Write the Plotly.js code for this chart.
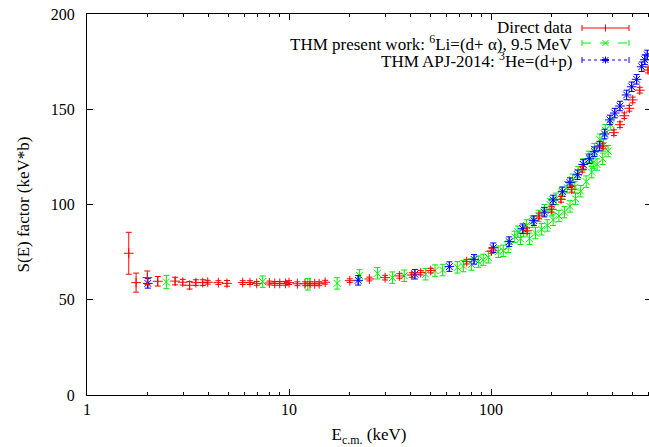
<!DOCTYPE html>
<html><head><meta charset="utf-8">
<script src="https://cdn.plot.ly/plotly-3.0.1.min.js"></script>
<style>html,body{margin:0;padding:0;overflow:hidden;background:#fff}</style>
</head><body><div id="chart"></div>
<script>
// Direct data
const redE = [1.61,1.75,1.99,2.24,2.73,2.98,3.22,3.46,3.74,3.96,4.47,4.93,5.9,6.41,6.92,8.0,8.5,9.0,9.6,10,11,12.0,12.7,13.4,14.1,15.1,20,25,29.9,35.2,40.5,44.9,50.3,75.8,100.6,151,173,199.6,222,251,283,358,406,435,457,484,503,545,599];
const redS = [74.4,59,61.6,59.7,59.8,59.2,57.6,59,59,59.2,59,58.6,59,59,58.6,58.8,58.6,58.6,58.6,59,58.4,58.4,58.4,58.4,58.4,59.2,60,60.9,61.6,62.5,63,64.2,65.3,70,75.6,86.2,94,97.5,102.7,108,118.5,130.7,137.7,141.9,146.6,150.5,154.9,160,170.6];
const redErr = [11,5,3.5,2.5,2,1.5,2,1.5,1.5,1,1,1.5,1,1,1,1,1,1,1,1,1,1,1,1,1,1,1,1,1.2,1.2,1.2,1.2,1.2,1.2,1.2,1.5,1.5,1.5,1.5,1.5,1.5,1.5,1.5,1.5,1.5,1.5,1.5,1.5,1.5];
// THM present work
const greenE = [2.47,7.41,12.4,17.3,22.3,27.4,32.5,37.2,47.5,52.8,57.6,68.1,73,80,86.6,91.5,97,108.6,115,121.7,131,136,140,145,150,155,160,166,172,178,184,190,196,200,203,210,217,224,231,238,246,254,260,262,270,278,287,296,305,315,320,325,335,346,357,360,368,380,392];
const greenS = [59.3,59.5,58.1,58.6,62.8,63.9,61.6,62.6,63.4,65.3,65.6,67,67.7,68.5,70,70.9,72.3,75.2,75.7,77.8,83,85.7,82,86,89,82,91,85,94,87,97,89,100,97,92,103,94,106,96,109,99,113,109,103,117,107,121,112,125,117,122,129,121,134,124,131,139,128,142];
const greenErr = [3.5,3,3,3,3,3,3,3,3,3,3,3,3,3,3,3,3,3,3,3,3,3,3,3,3,3,3,3,3,3,3,3,3,3,3,3,3,3,3,3,3,3,3,3,3,3,3,3,3,3,3,3,3,3,3,3,3,3,3];
// THM APJ-2014
const blueE = [2.0,22,42,62.2,82.4,102.6,123,143.5,163,183.6,203,226,246,268,286,307,325,344,365,388,410,435,469,497,526,557,577,594];
const blueS = [58.6,60.2,63.4,67.4,71.2,77.3,80.5,87.3,91.5,96,102.4,106.7,111.5,115.6,121,124,127.7,130.7,137,144.4,148,151.7,157.5,161.8,165.7,172.3,176,178.5];
const blueErr = [2.5,2.5,2.5,2.5,2.5,2.5,2.5,2.5,2.5,2.5,2.5,2.5,2.5,2.5,2.5,2.5,2.5,2.5,2.5,2.5,2.5,2.5,2.5,2.5,2.5,2.5,2.5,2.5];

const legendLabels = ["Direct data", "THM present work: <sup>6</sup>Li=(d+ α), 9.5 MeV", "THM APJ-2014: <sup>3</sup>He=(d+p)"];
const RED = "#ff0000", GREEN = "#00ee00", BLUE = "#0000ff";

const L = 87, T = 14, W = 652, H = 447, R = 1, B = 52;
const pw = W - L - R, ph = H - T - B;
const px = x => (x - L) / pw;
const py = y => (T + ph - y) / ph;

function errY(arr, color){ return {type:'data', array:arr, visible:true, color:color, thickness:1, width:3}; }

const traces = [
  {x: greenE, y: greenS, mode:'markers', type:'scatter', name: legendLabels[1],
   marker:{symbol:'x-thin-open', size:7, line:{color:GREEN, width:1}, color:GREEN},
   error_y: errY(greenErr, GREEN)},
  {x: blueE, y: blueS, mode:'markers', type:'scatter', name: legendLabels[2],
   marker:{symbol:'asterisk-open', size:8, line:{color:BLUE, width:1}, color:BLUE},
   error_y: errY(blueErr, BLUE)},
  {x: redE, y: redS, mode:'markers', type:'scatter', name: legendLabels[0],
   marker:{symbol:'cross-thin-open', size:7, line:{color:RED, width:1}, color:RED},
   error_y: errY(redErr, RED)}
];

// legend built from shapes + annotations (gnuplot style: text left, sample right)
const rows = [{y:28, c:RED, dash:'solid', m:'plus'}, {y:43, c:GREEN, dash:'dash', m:'x'}, {y:60, c:BLUE, dash:'dot', m:'star'}];
const sx0 = 582, sx1 = 629, sxc = (sx0 + sx1) / 2;
const shapes = [], annotations = [];
rows.forEach((r, i) => {
  const ln = {color:r.c, width:1};
  shapes.push({type:'line', xref:'paper', yref:'paper', x0:px(sx0), x1:px(sx1), y0:py(r.y), y1:py(r.y), line:{color:r.c, width:1, dash:r.dash}});
  [sx0, sx1].forEach(xx => shapes.push({type:'line', xref:'paper', yref:'paper', x0:px(xx), x1:px(xx), y0:py(r.y-3), y1:py(r.y+3), line:ln}));
  if (r.m === 'plus' || r.m === 'star') shapes.push({type:'line', xref:'paper', yref:'paper', x0:px(sxc), x1:px(sxc), y0:py(r.y-3.5), y1:py(r.y+3.5), line:ln});
  if (r.m === 'x' || r.m === 'star') {
    shapes.push({type:'line', xref:'paper', yref:'paper', x0:px(sxc-3), x1:px(sxc+3), y0:py(r.y-3), y1:py(r.y+3), line:ln});
    shapes.push({type:'line', xref:'paper', yref:'paper', x0:px(sxc-3), x1:px(sxc+3), y0:py(r.y+3), y1:py(r.y-3), line:ln});
  }
  if (r.m === 'star') shapes.push({type:'line', xref:'paper', yref:'paper', x0:px(sxc-3.5), x1:px(sxc+3.5), y0:py(r.y), y1:py(r.y), line:{color:r.c, width:2}});
  annotations.push({xref:'paper', yref:'paper', x:px(573), y:py(r.y), xanchor:'right', yanchor:'middle',
    text: legendLabels[i], showarrow:false, borderpad:0, font:{family:'Liberation Serif', size:17, color:'#000'}});
});

const tickFont = {family:'Liberation Serif', size:16, color:'#000'};
const titleFont = {family:'Liberation Serif', size:17, color:'#000'};
const layout = {
  width: W, height: H,
  margin: {l:L, r:R, t:T, b:B},
  paper_bgcolor:'#fff', plot_bgcolor:'#fff',
  showlegend:false,
  font: tickFont,
  xaxis: {type:'log', range:[0, pw/202], showgrid:false, zeroline:false,
    showline:true, linecolor:'#000', linewidth:1, mirror:'allticks',
    ticks:'inside', ticklen:6, tickcolor:'#000', tickvals:[1,10,100], ticktext:['1','10','100'],
    minor:{ticks:'inside', ticklen:3, tickcolor:'#000', tickvals:[2,3,4,5,6,7,8,9,20,30,40,50,60,70,80,90,200,300,400,500,600], showgrid:false},
    tickfont: tickFont,
    title:{text:'E<sub>c.m.</sub> (keV)', font:titleFont, standoff:12}},
  yaxis: {range:[0,200], showgrid:false, zeroline:false,
    showline:true, linecolor:'#000', linewidth:1, mirror:'allticks',
    ticks:'inside', ticklen:6, tickcolor:'#000', tickvals:[0,50,100,150,200],
    tickfont: tickFont, ticklabelstandoff:8,
    title:{text:'S(E) factor (keV*b)', font:titleFont, standoff:16}},
  shapes: shapes,
  annotations: annotations
};
Plotly.newPlot('chart', traces, layout, {displayModeBar:false, staticPlot:true});
</script></body></html>
